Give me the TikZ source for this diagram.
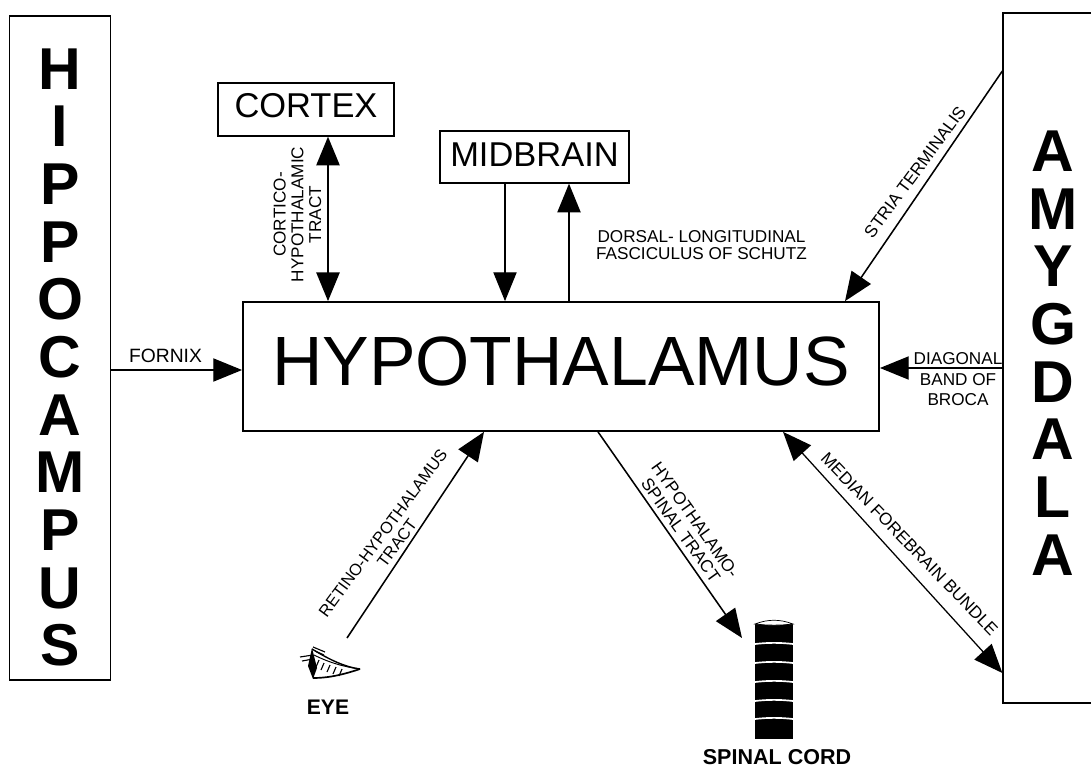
\documentclass[tikz,border=0pt]{standalone}
\usepackage{fontspec}
\setmainfont{Liberation Sans}
\usetikzlibrary{arrows.meta, positioning}
\begin{document}
\begin{tikzpicture}[
    x=0.025cm, y=-0.025cm,
    box/.style={draw, line width=0.9pt, inner sep=0pt, align=center},
    flow/.style={line width=0.9pt, -{Triangle[length=0.72cm, width=0.58cm]}},
    flowboth/.style={line width=0.9pt, {Triangle[length=0.72cm, width=0.58cm]}-{Triangle[length=0.72cm, width=0.58cm]}},
    tag/.style={inner sep=0pt, align=center, font=\fontsize{12.2}{12.6}\selectfont},
    title/.style={inner sep=0pt, align=center, font=\fontsize{42}{41}\selectfont\bfseries},
    caption/.style={inner sep=0pt, font=\fontsize{15.3}{18}\selectfont\bfseries}
]
    \useasboundingbox (0,0) rectangle (1091,767);
    \node[box, minimum width=2.51cm, minimum height=16.6cm] (hippocampus) at (60,348) {};
    \node[title] (hippocampusname) at (60,357.5) {
        H\\I\\P\\P\\O\\C\\A\\M\\P\\U\\S
    };
    \node[box, minimum width=2.425cm, minimum height=17.25cm] (amygdala) at (1051.5,358) {};
    \node[title] (amygdalaname) at (1053,353) {
        A\\M\\Y\\G\\D\\A\\L\\A
    };
    \node[box, minimum width=4.4cm, minimum height=1.325cm, text depth=6.4pt, font=\fontsize{24.5}{28}\selectfont] (cortex) at (306,109.5) {CORTEX};
    \node[box, minimum width=4.725cm, minimum height=1.3cm, text depth=3.3pt, font=\fontsize{24.5}{28}\selectfont] (midbrain) at (534.5,157) {MIDBRAIN};
    \node[box, line width=1.2pt, minimum width=15.9cm, minimum height=3.225cm, text depth=7pt, font=\fontsize{49.6}{58}\selectfont] (hypothalamus) at (561,366.5) {HYPOTHALAMUS};

    \coordinate (eyetip) at (347,638);
    \coordinate (spinaltop) at (742,638);

    \draw[flow] (hippocampus.east |- 0,370) -- (hypothalamus.west |- 0,370);
    \draw[flowboth, line width=1.5pt] (cortex.south -| 328,0) -- (hypothalamus.north -| 328,0);
    \draw[flow] (midbrain.south -| 505,0) -- (hypothalamus.north -| 505,0);
    \draw[flow, line width=1.2pt] (hypothalamus.north -| 569,0) -- (midbrain.south -| 569,0);
    \draw[flow, line width=1.1pt] (amygdala.west |- 0,71) -- (hypothalamus.north -| 845,0);
    \draw[flow] (amygdala.west |- 0,368) -- (hypothalamus.east |- 0,368);
    \draw[flowboth] (hypothalamus.south -| 783,0) -- (amygdala.west |- 0,673);
    \draw[flow, line width=1.1pt] (hypothalamus.south -| 598,0) -- (spinaltop);
    \draw[flow, line width=1.1pt] (eyetip) -- (hypothalamus.south -| 484,0);

    \node[tag, font=\fontsize{13.7}{16}\selectfont] (fornix) at (165.5,356) {FORNIX};
    \node[tag, rotate=90] (corticotract) at (297.5,214.5) {CORTICO-\\HYPOTHALAMIC\\TRACT};
    \node[tag] (dorsal) at (701.5,245) {DORSAL- LONGITUDINAL\\FASCICULUS OF SCHUTZ};
    \node[tag, rotate=53.5] (stria) at (915,172) {STRIA TERMINALIS};
    \node[tag, font=\fontsize{12.2}{14.6}\selectfont] (diagonal) at (958,379.5) {DIAGONAL\\BAND OF\\BROCA};
    \node[tag, rotate=-46] (median) at (909.5,544) {MEDIAN FOREBRAIN BUNDLE};
    \node[tag, rotate=-54.5] (spinaltract) at (688,525) {HYPOTHALAMO-\\SPINAL TRACT};
    \node[tag, rotate=53.5, font=\fontsize{11.7}{12.4}\selectfont] (retino) at (390,538) {RETINO-HYPOTHALAMUS\\TRACT};

    \fill (755,624) rectangle (793,739);
    \draw[fill=white, line width=0.5pt] (755,624) .. controls (768,619) and (780,619) .. (793,624) .. controls (780,625.5) and (768,625.5) .. cycle;
    \foreach \ringy in {644,663,682,701,719} {
        \draw[white, line width=1.2pt] (755,\ringy) .. controls (768,\ringy-1.5) and (780,\ringy-1.5) .. (793,\ringy);
    }
    \node[caption] (spinalcord) at (777,757) {SPINAL CORD};

    \fill (312,648) -- (308,666) -- (313,679) -- (317,668) -- cycle;
    \draw[line width=1pt] (312,649) .. controls (330,660) and (345,667) .. (360,669);
    \draw[line width=0.7pt] (314,655) .. controls (330,663) and (345,667) .. (360,669);
    \draw[line width=1.2pt] (313,678) .. controls (330,678) and (345,674) .. (360,669);
    \draw[line width=0.8pt] (300,657) -- (313,655) (302,661) -- (313,659) (313,647) -- (325,652) (315,651) -- (324,655);
    \foreach \lashx/\lashy in {319/660,324/663,330/665,336/667,342/669} {
        \draw[line width=0.8pt] (\lashx,\lashy) -- (\lashx-3,\lashy+7);
    }
    \node[caption, font=\fontsize{15}{18}\selectfont\bfseries] (eye) at (328,707.5) {EYE};
\end{tikzpicture}
\end{document}
